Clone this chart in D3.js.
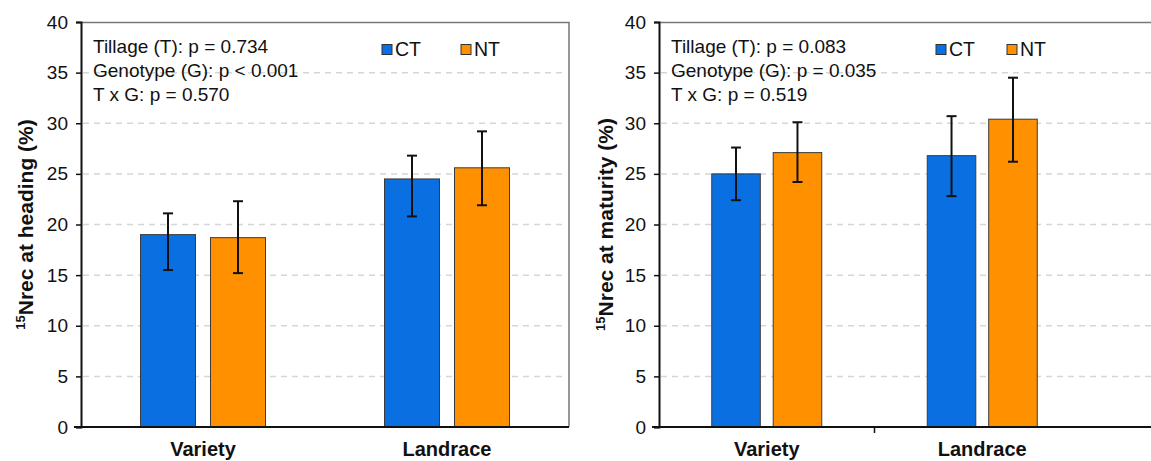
<!DOCTYPE html>
<html>
<head>
<meta charset="utf-8">
<script src="https://cdn.jsdelivr.net/npm/d3@7"></script>
<style>
  body { margin: 0; background: #fff; }
  svg text { font-family: "Liberation Sans", Arial, sans-serif; }
</style>
</head>
<body>
<svg id="chart" width="1151" height="461"></svg>
<script>
// data
const genotypes = ["Variety", "Landrace"]
const treatments = ["CT", "NT"]
const yTicks = [0, 5, 10, 15, 20, 25, 30, 35, 40]

// heading panel
const headMean = [[19.0, 18.7], [24.5, 25.6]]   // [genotype][treatment]
const headHi = [[21.1, 22.3], [26.8, 29.2]]
const headLo = [[15.5, 15.2], [20.8, 21.9]]
const headStats = ["Tillage (T): p = 0.734", "Genotype (G): p < 0.001", "T x G: p = 0.570"]

// maturity panel
const matMean = [[25.0, 27.1], [26.8, 30.4]]
const matHi = [[27.6, 30.1], [30.7, 34.5]]
const matLo = [[22.4, 24.2], [22.8, 26.2]]
const matStats = ["Tillage (T): p = 0.083", "Genotype (G): p = 0.035", "T x G: p = 0.519"]

const colors = ["#0a70e2", "#ff9000"]

const svg = d3.select("#chart")

function drawPanel(opts) {
  let g = svg.append("g")
  let y = d3.scaleLinear().domain([0, 40]).range([427, 22])
  let x = d3.scaleBand().domain(genotypes).range([opts.left, opts.right])
  let bw = x.bandwidth()
  let inner = d3.scaleBand().domain(treatments)
    .range([(bw - opts.pairW) / 2, (bw + opts.pairW) / 2])
    .paddingInner(opts.barGap)

  // frame (top + right)
  g.append("path")
    .attr("d", `M${opts.left},22.5 H${opts.frameRight} V427`)
    .attr("fill", "none").attr("stroke", "#777").attr("stroke-width", 1.5)

  // gridlines
  g.selectAll("line.grid")
    .data(yTicks.filter(d => d > 0 && d < 40))
    .join("line")
    .attr("x1", opts.left + 2).attr("x2", opts.frameRight - 3)
    .attr("y1", d => y(d)).attr("y2", d => y(d))
    .attr("stroke", "#d6d6d6").attr("stroke-width", 1.5)
    .attr("stroke-dasharray", "6,5")

  // bars
  genotypes.forEach((gen, gi) => {
    treatments.forEach((t, ti) => {
      let bx = x(gen) + inner(t)
      g.append("rect")
        .attr("x", bx).attr("y", y(opts.mean[gi][ti]))
        .attr("width", inner.bandwidth())
        .attr("height", y(0) - y(opts.mean[gi][ti]))
        .attr("fill", colors[ti]).attr("stroke", "#3a3a3a").attr("stroke-width", 1)
      let cx = bx + inner.bandwidth() / 2
      g.append("line")
        .attr("x1", cx).attr("x2", cx)
        .attr("y1", y(opts.lo[gi][ti])).attr("y2", y(opts.hi[gi][ti]))
        .attr("stroke", "#111").attr("stroke-width", 2)
      for (let v of [opts.lo[gi][ti], opts.hi[gi][ti]]) {
        g.append("line")
          .attr("x1", cx - 5).attr("x2", cx + 5)
          .attr("y1", y(v)).attr("y2", y(v))
          .attr("stroke", "#111").attr("stroke-width", 2)
      }
    })
  })

  // y axis
  let yAxis = g.append("g")
    .attr("transform", `translate(${opts.left},0)`)
    .call(d3.axisLeft(y).tickValues(yTicks).tickSize(5).tickPadding(8))
  yAxis.select(".domain").attr("stroke", "#111").attr("stroke-width", 2)
  yAxis.selectAll(".tick line").attr("stroke", "#111").attr("stroke-width", 1.5)
  yAxis.selectAll(".tick text")
    .attr("font-size", 19).attr("fill", "#111")
    .style("font-family", "Liberation Sans, Arial, sans-serif")

  // x axis
  let xAxis = g.append("g")
    .attr("transform", `translate(0,${y(0)})`)
  xAxis.append("line")
    .attr("x1", opts.left - 7).attr("x2", opts.frameRight)
    .attr("stroke", "#111").attr("stroke-width", 2)
  if (opts.midTick) {
    xAxis.append("line")
      .attr("x1", x("Landrace")).attr("x2", x("Landrace"))
      .attr("y1", 0).attr("y2", 6)
      .attr("stroke", "#111").attr("stroke-width", 1.5)
  }
  xAxis.selectAll("text")
    .data(genotypes)
    .join("text")
    .attr("x", d => x(d) + x.bandwidth() / 2)
    .attr("y", 29)
    .attr("text-anchor", "middle")
    .attr("font-size", 20).attr("font-weight", "bold").attr("fill", "#111")
    .text(d => d)

  // y label
  let lab = g.append("text")
    .attr("transform", `translate(${opts.labelX},${y(20)}) rotate(-90)`)
    .attr("text-anchor", "middle")
    .attr("font-size", 21).attr("font-weight", "bold").attr("fill", "#111")
  lab.append("tspan").attr("font-size", 13).attr("dy", -8).text("15")
  lab.append("tspan").attr("dy", 8).text(opts.label)

  // statistics
  g.selectAll("text.stat")
    .data(opts.stats)
    .join("text")
    .attr("class", "stat")
    .attr("x", opts.left + 12)
    .attr("y", (d, i) => 53 + i * 24)
    .attr("font-size", 19).attr("fill", "#111")
    .text(d => d)

  // legend
  treatments.forEach((t, i) => {
    let lx = opts.legendX + i * opts.legendStep
    g.append("rect")
      .attr("x", lx).attr("y", 44.5).attr("width", 10).attr("height", 10)
      .attr("fill", colors[i]).attr("stroke", "#333").attr("stroke-width", 1)
    g.append("text")
      .attr("x", lx + 13).attr("y", 55.5)
      .attr("font-size", 19.5).attr("fill", "#111")
      .text(t)
  })
}

drawPanel({
  left: 81, right: 569, frameRight: 569, pairW: 125, barGap: 0.214, midTick: false,
  mean: headMean, hi: headHi, lo: headLo, stats: headStats,
  label: "Nrec at heading (%)", labelX: 33, legendX: 382, legendStep: 79
})

drawPanel({
  left: 659, right: 1090, frameRight: 1160, pairW: 110, barGap: 0.21, midTick: true,
  mean: matMean, hi: matHi, lo: matLo, stats: matStats,
  label: "Nrec at maturity (%)", labelX: 613, legendX: 936, legendStep: 71
})
</script>
</body>
</html>
